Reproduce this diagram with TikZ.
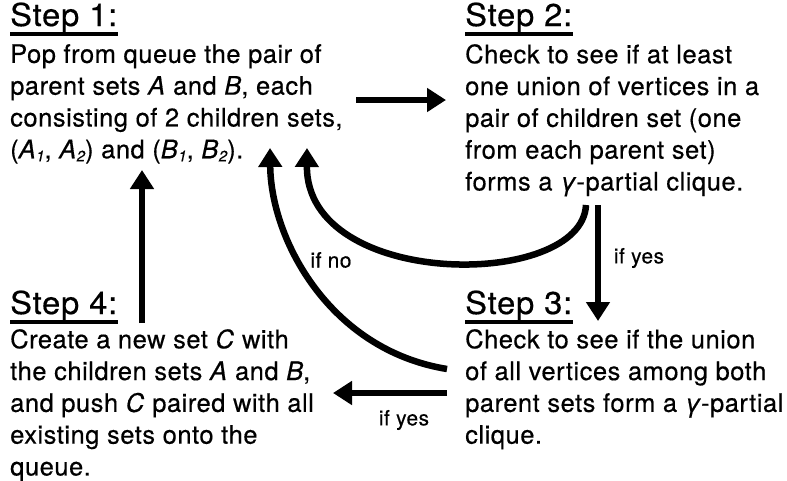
\documentclass[tikz,border=0pt]{standalone}
\usepackage{fontspec}
\setmainfont{TeX Gyre Heros}[LetterSpace=2, FakeBold=0.45]
\newfontfamily\headfont{TeX Gyre Heros}[LetterSpace=2.5, FakeStretch=1.04, FakeBold=0.45]
\usetikzlibrary{arrows.meta}

% small italic index, set slightly below the baseline
\newcommand\idx[1]{\raisebox{-0.12em}{\fontsize{15}{15}\selectfont\itshape #1}}
\newcommand\gam{{\itshape γ}}

\tikzset{
  heading/.style={anchor=base west, inner sep=0pt,
    font=\headfont\fontsize{31.5}{31.5}\selectfont},
  body/.style={anchor=north west, inner sep=0pt, align=left,
    font=\fontsize{25.5}{31.8}\selectfont},
  cond/.style={inner sep=0pt, font=\fontsize{21}{21}\selectfont},
  flow/.style={line width=6.5pt,
    -{Triangle[length=19pt,width=23pt]}},
}

\begin{document}
\begin{tikzpicture}[x=1pt,y=-1pt]
\useasboundingbox (0,0) rectangle (787,480);

% step headings
\node[heading] (h1) at (10,26)  {Step 1:};
\node[heading] (h2) at (465,26) {Step 2:};
\node[heading] (h3) at (465,314) {Step 3:};
\node[heading] (h4) at (10,314) {Step 4:};
\foreach \h in {h1,h2,h3,h4}
  \draw[line width=3.5pt] ([yshift=-8pt]\h.base west) -- ([yshift=-8pt]\h.base east);

% step descriptions
\node[body] (s1) at (10,44) {Pop from queue the pair of\\
  parent sets \textit{A} and \textit{B}, each\\
  consisting of 2 children sets,\\
  (\textit{A}\idx{1}, \textit{A}\idx{2}) and (\textit{B}\idx{1}, \textit{B}\idx{2}).};
\node[body] (s2) at (465,44) {Check to see if at least\\
  one union of vertices in a\\
  pair of children set (one\\
  from each parent set)\\
  forms a \gam-partial clique.};
\node[body] (s3) at (465,329) {Check to see if the union\\
  of all vertices among both\\
  parent sets form a \gam-partial\\
  clique.};
\node[body] (s4) at (10,329) {Create a new set \textit{C} with\\
  the children sets \textit{A} and \textit{B},\\
  and push \textit{C} paired with all\\
  existing sets onto the\\
  queue.};

% arrow end points
\coordinate (a12) at (356,100);
\coordinate (b12) at (446,100);
\coordinate (a23) at (598,205);
\coordinate (b23) at (598,321);
\coordinate (a34) at (447,393);
\coordinate (b34) at (333,393);
\coordinate (a41) at (142,323);
\coordinate (b41) at (142,170);
\coordinate (ano) at (586,205);
\coordinate (bno) at (307,148);
\coordinate (a31) at (447,369);
\coordinate (b31) at (270,148);

% connectors
\draw[flow] (a12) -- (b12);
\draw[flow] (a23) -- (b23);
\draw[flow] (a34) -- (b34);
\draw[flow] (a41) -- (b41);
\draw[flow] (ano) .. controls (582,290) and (306,290) .. (bno);
\draw[flow] (a31) .. controls (330,350) and (271,240) .. (b31);

% branch labels
\node[cond] (lno)  at (331,260) {if no};
\node[cond] (lyes) at (639,258) {if yes};
\node[cond] (lyes2) at (404,420) {if yes};
\end{tikzpicture}
\end{document}
